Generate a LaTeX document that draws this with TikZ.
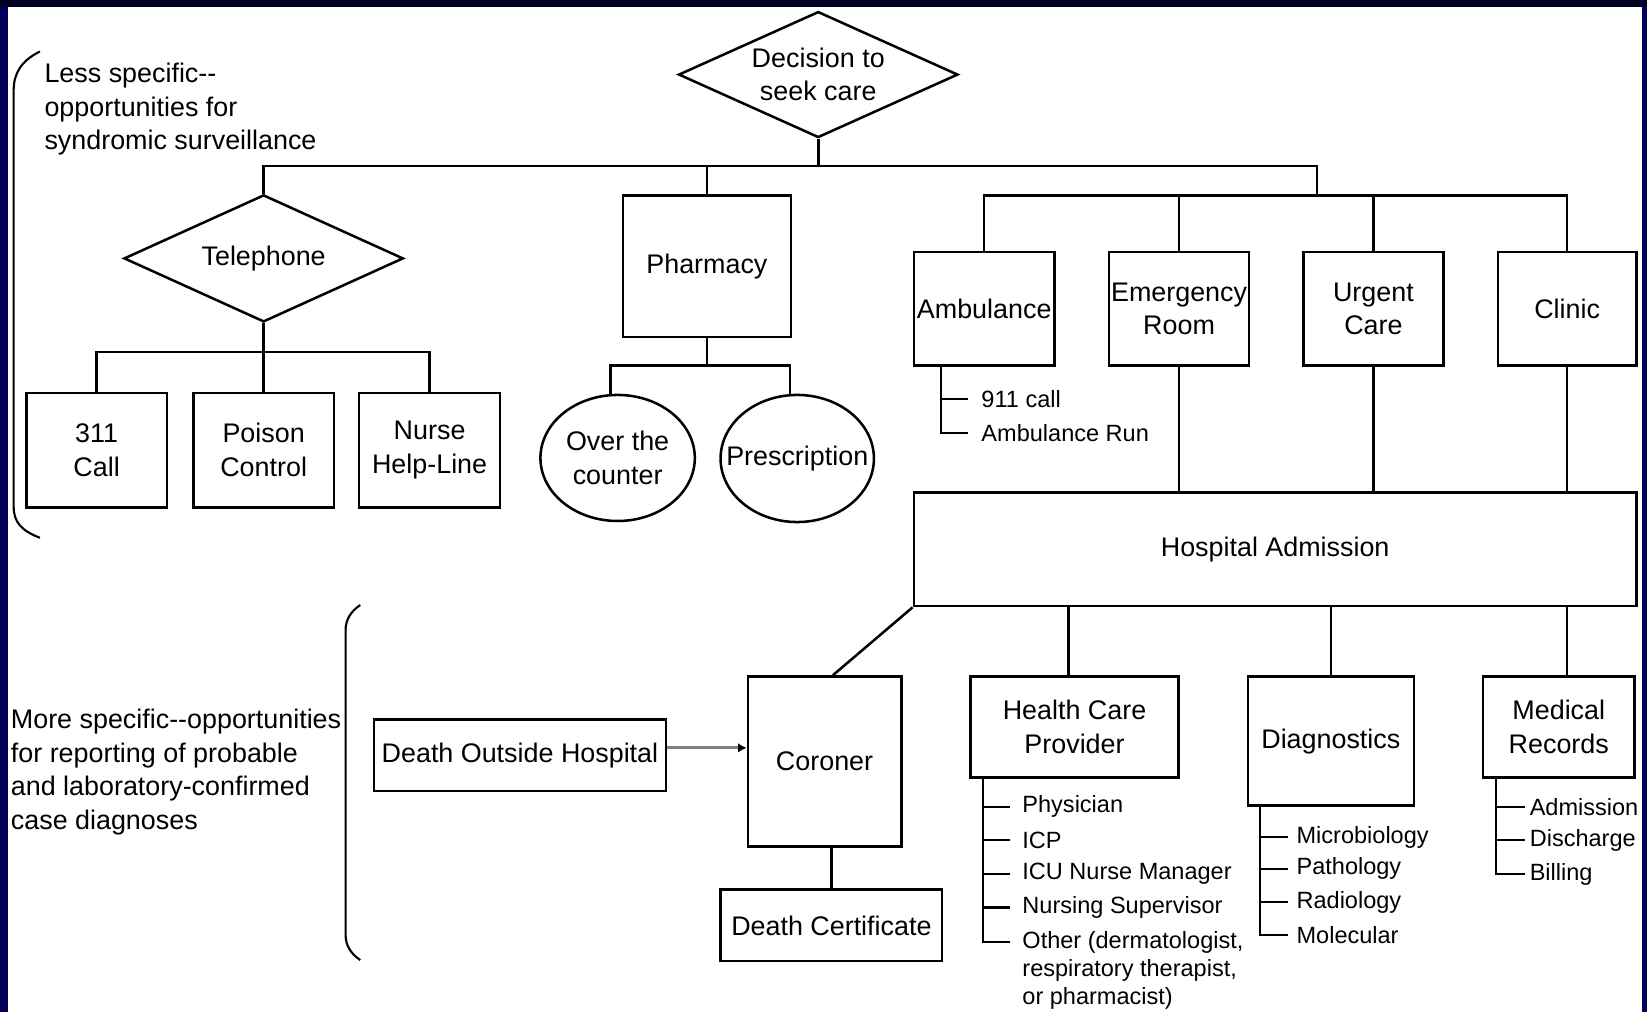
\documentclass[tikz,border=0pt]{standalone}
\usepackage{fontspec}
\setmainfont{Liberation Sans}
\usepackage{tikz}
\usetikzlibrary{shapes, arrows, arrows.meta, calc}
\definecolor{navyside}{RGB}{0,0,88}
\definecolor{navytop}{RGB}{0,0,34}
\tikzstyle{line} = [draw, line width=1.2pt]
\tikzstyle{tick} = [draw, line width=1pt]
\tikzstyle{arrowline} = [draw, gray, line width=1.5pt, -{Latex[black, length=4pt, width=4.5pt]}]
\tikzstyle{brace} = [draw, line width=1pt]
\tikzstyle{block} = [draw, rectangle, line width=1.2pt, align=center, inner sep=0pt]
\tikzstyle{choice} = [draw, diamond, aspect=2.2, line width=1.2pt, align=center, inner sep=0pt]
\tikzstyle{oval} = [draw, ellipse, line width=1.2pt, align=center, inner sep=0pt]
\tikzstyle{item} = [anchor=west, inner sep=0pt, align=left, font=\fontsize{11.2}{13.5}\selectfont]
\tikzstyle{note} = [anchor=west, inner sep=0pt, align=left]

\begin{document}
\begin{tikzpicture}[x=0.5pt, y=-0.5pt, font=\fontsize{12.8}{16}\selectfont]
		\useasboundingbox (0,0) rectangle (1568,963);
		\fill[navyside] (0,0) rectangle (1568,963);
		\fill[navytop] (0,0) rectangle (1568,6.5);
		\fill[white] (7.9,6.5) rectangle (1563,963);

		\node[choice, minimum width=133pt, minimum height=60pt] (dec) at (779,71) {Decision to\\seek care};
		\node[choice, minimum width=133pt, minimum height=60.5pt] (tel) at (251,246) {Telephone};
		\node[block, minimum width=80pt, minimum height=67.5pt] (pha) at (673,253.5) {Pharmacy};
		\node[block, minimum width=67pt, minimum height=54pt] (amb) at (937,294) {Ambulance};
		\node[block, minimum width=66.5pt, minimum height=54pt] (er) at (1122.5,294) {Emergency\\Room};
		\node[block, minimum width=66.5pt, minimum height=54pt] (urg) at (1307.5,294) {Urgent\\Care};
		\node[block, minimum width=66pt, minimum height=54pt] (cli) at (1492,294) {Clinic};
		\node[block, minimum width=67pt, minimum height=54.5pt] (c311) at (92,428.5) {311\\Call};
		\node[block, minimum width=67pt, minimum height=54.5pt] (poi) at (251,428.5) {Poison\\Control};
		\node[block, minimum width=67pt, minimum height=54.5pt] (nur) at (409,428.5) {Nurse\\Help-Line};
		\node[oval, minimum width=73.5pt, minimum height=60pt] (otc) at (588,436) {\makebox[0pt]{Over the}\\\makebox[0pt]{counter}};
		\node[oval, minimum width=73pt, minimum height=60.5pt] (pre) at (759,436.5) {\makebox[0pt]{Prescription}};
		\node[block, minimum width=344pt, minimum height=54pt] (hos) at (1214,523) {Hospital Admission};
		\node[block, minimum width=139pt, minimum height=34pt] (doh) at (495,719) {Death Outside Hospital};
		\node[block, minimum width=73pt, minimum height=81pt] (cor) at (785,725) {Coroner};
		\node[block, minimum width=105.5pt, minimum height=34pt] (dce) at (791.5,881) {Death Certificate};
		\node[block, minimum width=99pt, minimum height=48pt] (hcp) at (1023,692) {Health Care\\Provider};
		\node[block, minimum width=79pt, minimum height=61.5pt] (dia) at (1267,705.5) {Diagnostics};
		\node[block, minimum width=72pt, minimum height=48pt] (mre) at (1484,692) {Medical\\Records};

		\node[item] (a1) at (934,380) {911 call};
		\node[item] (a2) at (934,412) {Ambulance Run};
		\node[item] (h1) at (973,768) {Physician};
		\node[item] (h2) at (973,800) {ICP};
		\node[item] (h3) at (973,832) {ICU Nurse Manager};
		\node[item] (h4) at (973,864) {Nursing Supervisor};
		\node[item, anchor=north west] (h5) at (973,886) {Other (dermatologist,\\respiratory therapist,\\or pharmacist)};
		\node[item] (d1) at (1234,797) {Microbiology};
		\node[item] (d2) at (1234,827) {Pathology};
		\node[item] (d3) at (1234,859) {Radiology};
		\node[item] (d4) at (1234,890) {Molecular};
		\node[item] (m1) at (1456,768) {Admission};
		\node[item] (m2) at (1456,800) {Discharge};
		\node[item] (m3) at (1456,832) {Billing};

		\node[note] (less) at (42,104) {Less specific-{}-\\opportunities for\\syndromic surveillance};
		\node[note] (more) at (10,735) {More specific-{}-opportunities\\for reporting of probable\\and laboratory-confirmed\\case diagnoses};

		\coordinate (top) at (0,158);
		\coordinate (mid) at (0,186);
		\coordinate (drop) at (1254,158);
		\coordinate (tbus) at (0,335);
		\coordinate (pbus) at (0,348);
		\draw[line] (dec.south) -- (dec.south |- top);
		\draw[line] (tel.north) |- (drop) -- (drop |- mid);
		\draw[line] (pha.north) -- (pha.north |- top);
		\draw[line] (amb.north) -- (amb.north |- mid) -- (cli.north |- mid) -- (cli.north);
		\draw[line] (er.north) -- (er.north |- mid);
		\draw[line] (urg.north) -- (urg.north |- mid);
		\draw[line] (tel.south) -- (poi.north);
		\draw[line] (c311.north) |- (nur.north |- tbus) -- (nur.north);
		\draw[line] (pha.south) -- (pha.south |- pbus);
		\draw[line] ([xshift=-3.5pt]otc.north) |- ([xshift=-3.5pt]pre.north |- pbus) -- ([xshift=-3.5pt]pre.north);
		\draw[line] (er.south) -- (er.south |- hos.north);
		\draw[line] (urg.south) -- (urg.south |- hos.north);
		\draw[line] (cli.south) -- (cli.south |- hos.north);
		\draw[line] (hos.south west) -- ([xshift=4pt]cor.north);
		\draw[line] ([xshift=-3pt]hcp.north |- hos.south) -- ([xshift=-3pt]hcp.north);
		\draw[line] (dia.north |- hos.south) -- (dia.north);
		\draw[line] ([xshift=4pt]mre.north |- hos.south) -- ([xshift=4pt]mre.north);
		\draw[line] (dce.north) -- (dce.north |- cor.south);
		\coordinate (arrS) at ([yshift=3.5pt]doh.east);
		\draw[arrowline] (arrS) -- (arrS -| cor.west);

		\coordinate (h5t) at ($(h5.north west)+(0,11)$);
		\draw[tick] ($(amb.south west)+(27,0)$) coordinate (av) |- ([xshift=-6pt]a2.west);
		\draw[tick] (av |- a1.west) -- ([xshift=-6pt]a1.west);
		\draw[tick] ($(hcp.south west)+(13,0)$) coordinate (hv) |- ([xshift=-5.5pt]h5t);
		\foreach \i in {h1,h2,h3,h4} \draw[tick] (hv |- \i.west) -- ([xshift=-5.5pt]\i.west);
		\draw[tick] ($(dia.south west)+(13,0)$) coordinate (dv) |- ([xshift=-4pt]d4.west);
		\foreach \i in {d1,d2,d3} \draw[tick] (dv |- \i.west) -- ([xshift=-4pt]\i.west);
		\draw[tick] ($(mre.south west)+(13,0)$) coordinate (mv) |- ([xshift=-2pt]m3.west);
		\foreach \i in {m1,m2} \draw[tick] (mv |- \i.west) -- ([xshift=-2pt]\i.west);

		\draw[brace] (38,49) .. controls (20,58) and (13,70) .. (13,86) -- (13,482) .. controls (13,497) and (20,505) .. (38,512);
		\draw[brace] (343,576) .. controls (334,582) and (329,590) .. (329,600) -- (329,890) .. controls (329,900) and (334,908) .. (343,914);
	\end{tikzpicture}
\end{document}
